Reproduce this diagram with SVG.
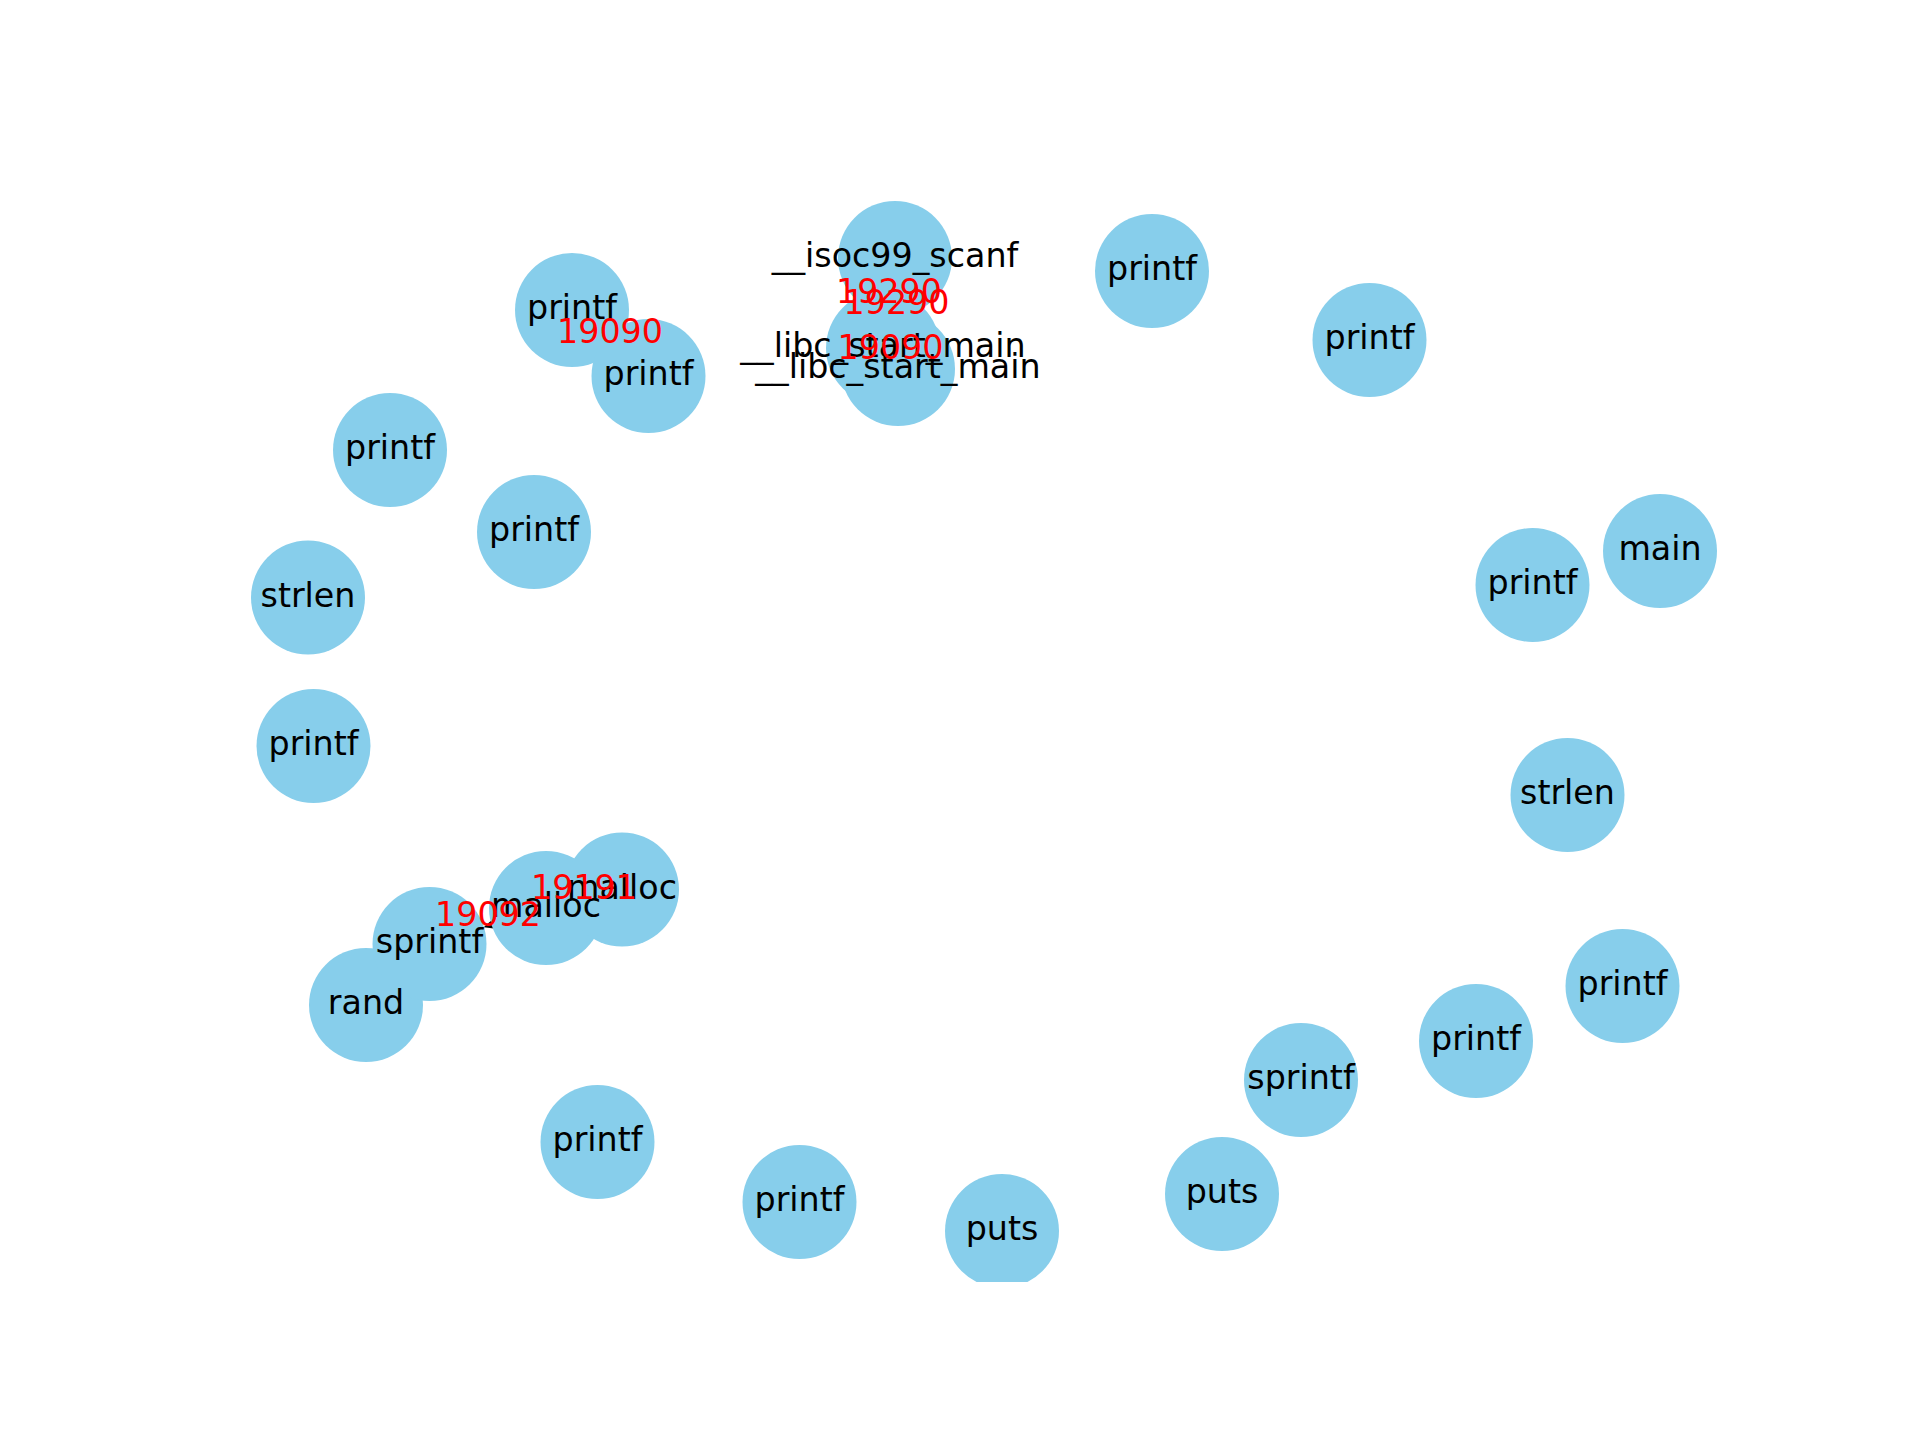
<svg xmlns="http://www.w3.org/2000/svg" width="1920" height="1440" viewBox="0 0 1920 1440">
<style>
.n{fill:#87CEEB}
.t{font-family:"DejaVu Sans","Liberation Sans",sans-serif;font-size:33.3px;fill:#000;text-anchor:middle}
.e{font-family:"DejaVu Sans","Liberation Sans",sans-serif;font-size:33.3px;fill:#FF0000;text-anchor:middle}
</style>
<defs>
<clipPath id="ax"><rect x="240" y="173" width="1488" height="1109"/></clipPath>
</defs>
<rect x="0" y="0" width="1920" height="1440" fill="#fff"/>
<g clip-path="url(#ax)">
<g id="connectors">
<line x1="546" y1="908" x2="498.4" y2="922.7" stroke="#000" stroke-width="3"/>
<polygon points="486,926.5 500.2,928.4 496.6,917" fill="#000" stroke="#000" stroke-width="2" stroke-linejoin="miter"/>
</g>
<g id="node-isoc99"><circle class="n" cx="895" cy="258" r="57"/></g>
<g id="node-libc1"><circle class="n" cx="883" cy="348" r="57"/></g>
<g id="node-libc2"><circle class="n" cx="898" cy="369" r="57"/></g>
<g id="node-printf1"><circle class="n" cx="572" cy="310" r="57"/></g>
<g id="node-printf2"><circle class="n" cx="648.5" cy="376" r="57"/></g>
<g id="node-printf3"><circle class="n" cx="1152" cy="271" r="57"/></g>
<g id="node-printf4"><circle class="n" cx="1369.5" cy="340" r="57"/></g>
<g id="node-printf5"><circle class="n" cx="390" cy="450" r="57"/></g>
<g id="node-printf6"><circle class="n" cx="534" cy="532" r="57"/></g>
<g id="node-strlen1"><circle class="n" cx="308" cy="597.5" r="57"/></g>
<g id="node-printf7"><circle class="n" cx="313.5" cy="746" r="57"/></g>
<g id="node-main"><circle class="n" cx="1660" cy="551" r="57"/></g>
<g id="node-printf8"><circle class="n" cx="1532.5" cy="585" r="57"/></g>
<g id="node-strlen2"><circle class="n" cx="1567.5" cy="795" r="57"/></g>
<g id="node-printf9"><circle class="n" cx="1622.5" cy="986" r="57"/></g>
<g id="node-printf10"><circle class="n" cx="1476" cy="1041" r="57"/></g>
<g id="node-sprintf1"><circle class="n" cx="1301" cy="1080" r="57"/></g>
<g id="node-puts1"><circle class="n" cx="1222" cy="1194" r="57"/></g>
<g id="node-puts2"><circle class="n" cx="1002" cy="1231" r="57"/></g>
<g id="node-printf11"><circle class="n" cx="799.5" cy="1202" r="57"/></g>
<g id="node-printf12"><circle class="n" cx="597.5" cy="1142" r="57"/></g>
<g id="node-rand"><circle class="n" cx="366" cy="1005" r="57"/></g>
<g id="node-sprintf2"><circle class="n" cx="429.5" cy="944" r="57"/></g>
<g id="node-malloc1"><circle class="n" cx="546" cy="908" r="57"/></g>
<g id="node-malloc2"><circle class="n" cx="622" cy="889.5" r="57"/></g>
<g id="node-labels">
<text class="t" x="895" y="267.2">__isoc99_scanf</text>
<text class="t" x="883" y="357.2">__libc_start_main</text>
<text class="t" x="898" y="378.2">__libc_start_main</text>
<text class="t" x="572" y="319.2">printf</text>
<text class="t" x="648.5" y="385.2">printf</text>
<text class="t" x="1152" y="280.2">printf</text>
<text class="t" x="1369.5" y="349.2">printf</text>
<text class="t" x="390" y="459.2">printf</text>
<text class="t" x="534" y="541.2">printf</text>
<text class="t" x="308" y="606.7">strlen</text>
<text class="t" x="313.5" y="755.2">printf</text>
<text class="t" x="1660" y="560.2">main</text>
<text class="t" x="1532.5" y="594.2">printf</text>
<text class="t" x="1567.5" y="804.2">strlen</text>
<text class="t" x="1622.5" y="995.2">printf</text>
<text class="t" x="1476" y="1050.2">printf</text>
<text class="t" x="1301" y="1089.2">sprintf</text>
<text class="t" x="1222" y="1203.2">puts</text>
<text class="t" x="1002" y="1240.2">puts</text>
<text class="t" x="799.5" y="1211.2">printf</text>
<text class="t" x="597.5" y="1151.2">printf</text>
<text class="t" x="366" y="1014.2">rand</text>
<text class="t" x="429.5" y="953.2">sprintf</text>
<text class="t" x="546" y="917.2">malloc</text>
<text class="t" x="622" y="898.7">malloc</text>
</g>
<g id="edge-labels">
<text class="e" x="889" y="303">19290</text>
<text class="e" x="896.5" y="313.5">19290</text>
<text class="e" x="890.5" y="358.5">19090</text>
<text class="e" x="610" y="343">19090</text>
<text class="e" x="488" y="926">19092</text>
<text class="e" x="584" y="899">19191</text>
</g>
</g>
</svg>
